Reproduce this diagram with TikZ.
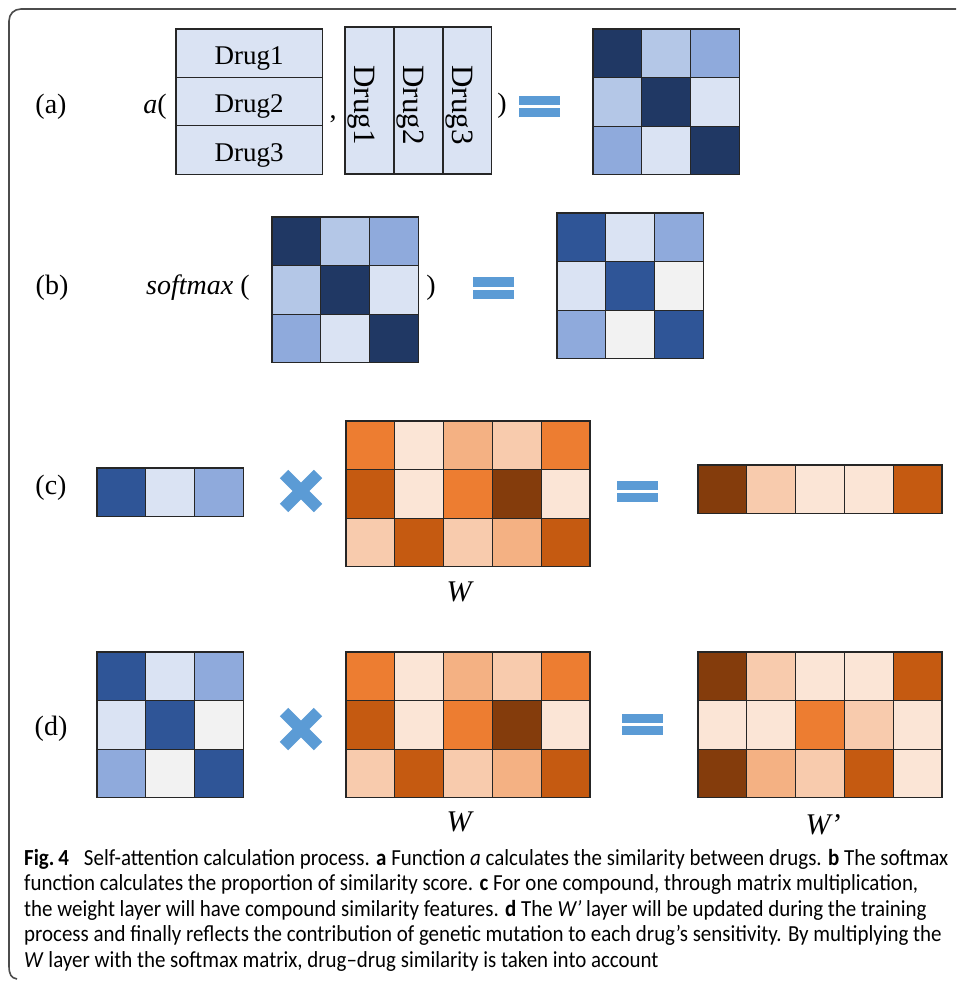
\documentclass[tikz,border=0pt]{standalone}
\usepackage{fontspec}
\setmainfont{Liberation Serif}
\newfontfamily\capfont[FakeStretch=0.91]{Carlito}
\usetikzlibrary{shapes.misc}

\definecolor{navy}{HTML}{203864}
\definecolor{bluemid}{HTML}{2F5597}
\definecolor{blueA}{HTML}{8FAADC}
\definecolor{blueB}{HTML}{B4C7E7}
\definecolor{blueC}{HTML}{DAE3F3}
\definecolor{greyF}{HTML}{F2F2F2}
\definecolor{orA}{HTML}{ED7D31}
\definecolor{orB}{HTML}{C55A11}
\definecolor{orC}{HTML}{843C0C}
\definecolor{orD}{HTML}{F4B183}
\definecolor{orE}{HTML}{F8CBAD}
\definecolor{orF}{HTML}{FBE5D6}
\definecolor{eqblue}{HTML}{5B9BD5}

\tikzset{
  cell/.style={draw=black!85, line width=1.3pt, minimum width=48.8pt, minimum height=48.6pt,
    inner sep=0pt, outer sep=0pt, anchor=north west},
  lbl/.style={inner sep=0pt, font=\fontsize{28}{32}\selectfont},
  drug/.style={inner sep=0pt, font=\fontsize{27}{30}\selectfont},
  drugrot/.style={inner sep=0pt, rotate=-90, font=\fontsize{31}{34}\selectfont},
  eqbar/.style={fill=eqblue, minimum width=41pt, minimum height=9pt, inner sep=0pt},
  mul/.style={cross out, draw=eqblue, line width=12pt, minimum size=22pt, inner sep=0pt},
  frame/.style={draw=black!70, line width=1.6pt},
  capline/.style={inner sep=0pt, anchor=base west, font=\capfont\fontsize{23}{25}\selectfont},
}

\newcommand{\heatmap}[5]{%
  \foreach \c [count=\i from 0] in {#5}{
    \pgfmathtruncatemacro\cc{mod(\i,#4)}
    \pgfmathtruncatemacro\rr{div(\i,#4)}
    \node[cell, fill=\c] (#1-\rr-\cc) at ({#2+\cc*48.8},{#3+\rr*48.6}) {};
  }}
\newcommand{\eqsign}[3]{%
  \node[eqbar] (#1-top) at (#2,#3-6) {};
  \node[eqbar] (#1-bot) at (#2,#3+6) {};}

\begin{document}
\begin{tikzpicture}[x=1pt, y=-1pt]
  \fill[white] (0,0) rectangle (956,981);
  \useasboundingbox (0,0) rectangle (956,981);

  \draw[frame] (956,9) -- (21,9) .. controls (14,9) and (9,14) .. (9,21) -- (9,966)
    .. controls (9,974) and (11,978) .. (17,979);

  % (a)
  \node[lbl] (la) at (51,107) {(a)};
  \node[lbl, anchor=east] (fa) at (167,107) {\textit{a}(};
  \foreach \k in {1,2,3}{
    \node[cell, fill=blueC, minimum width=146.4pt] (qry-\k) at (176,{29+(\k-1)*48.4}) {};
    \node[drug] at ([yshift=-5pt]qry-\k.center) {Drug\k};
    \node[cell, fill=blueC, minimum height=147pt] (key-\k) at ({345+(\k-1)*49},27) {};
    \node[drugrot] at ([xshift=-8pt, yshift=-4.5pt]key-\k.center) {Drug\k};
  }
  \node[lbl, anchor=base] (comma) at (333,119) {,};
  \node[lbl] (ra) at (502,106) {)};
  \eqsign{eqa}{539.5}{106.5}
  \heatmap{sa}{593}{29}{3}{navy,blueB,blueA,blueB,navy,blueC,blueA,blueC,navy}

  % (b)
  \node[lbl] (lb) at (52,288) {(b)};
  \node[lbl, anchor=west] (fb) at (146,288) {\textit{softmax} (};
  \heatmap{sb}{272}{217}{3}{navy,blueB,blueA,blueB,navy,blueC,blueA,blueC,navy}
  \node[lbl] (rb) at (431,288) {)};
  \eqsign{eqb}{493.5}{288}
  \heatmap{pb}{557}{213}{3}{bluemid,blueC,blueA,blueC,bluemid,greyF,blueA,greyF,bluemid}

  % (c)
  \node[lbl] (lc) at (51,488) {(c)};
  \heatmap{vc}{97}{468}{3}{bluemid,blueC,blueA}
  \node[mul] (mc) at (301,491) {};
  \heatmap{wc}{346}{421}{5}{orA,orF,orD,orE,orA,orB,orF,orA,orC,orF,orE,orB,orE,orD,orB}
  \node[lbl, font=\fontsize{30}{32}\selectfont\itshape] (wlc) at (459,592) {W};
  \eqsign{eqc}{637.5}{491.5}
  \heatmap{rc}{698}{465}{5}{orC,orE,orF,orF,orB}

  % (d)
  \node[lbl] (ld) at (51,729) {(d)};
  \heatmap{pd}{97}{652}{3}{bluemid,blueC,blueA,blueC,bluemid,greyF,blueA,greyF,bluemid}
  \node[mul] (md) at (301,729) {};
  \heatmap{wd}{346}{652}{5}{orA,orF,orD,orE,orA,orB,orF,orA,orC,orF,orE,orB,orE,orD,orB}
  \node[lbl, font=\fontsize{30}{32}\selectfont\itshape] (wld) at (459,822) {W};
  \eqsign{eqd}{642.5}{724}
  \heatmap{rd}{698}{652}{5}{orC,orE,orF,orF,orB,orF,orF,orA,orE,orF,orC,orD,orE,orB,orF}
  \node[lbl, font=\fontsize{30}{32}\selectfont\itshape] (wpd) at (823,825) {W’};

  % caption
  \node[capline] (cap-1) at (24,865) {{\bfseries Fig.\,4}\hspace{0.45em} Self-attention calculation process. {\bfseries a} Function \textit{a} calculates the similarity between drugs. {\bfseries b} The softmax};
  \node[capline] (cap-2) at (24,890.5) {function calculates the proportion of similarity score. {\bfseries c} For one compound, through matrix multiplication,};
  \node[capline] (cap-3) at (24,916) {the weight layer will have compound similarity features. {\bfseries d} The \textit{W’} layer will be updated during the training};
  \node[capline] (cap-4) at (24,941.5) {process and finally reflects the contribution of genetic mutation to each drug’s sensitivity. By multiplying the};
  \node[capline] (cap-5) at (24,967) {\textit{W} layer with the softmax matrix, drug–drug similarity is taken into account};
\end{tikzpicture}
\end{document}
